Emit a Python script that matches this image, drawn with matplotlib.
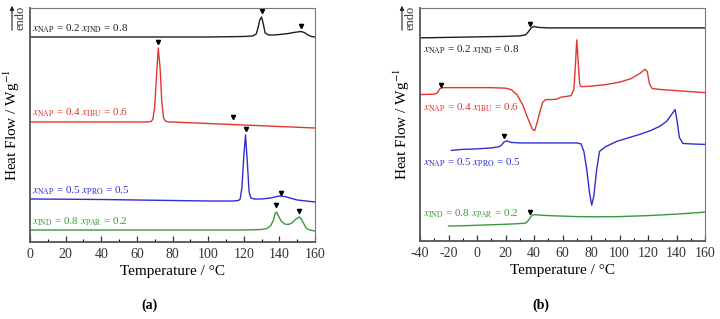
import numpy as np
import matplotlib
matplotlib.use("Agg")
import matplotlib.pyplot as plt
from matplotlib.ticker import MultipleLocator

plt.rcParams['font.family'] = ['Liberation Serif', 'DejaVu Serif']
plt.rcParams['mathtext.fontset'] = 'stix'
plt.rcParams['axes.unicode_minus'] = False

# panel (a) - heating scans of the crystalline mixtures (arbitrary heat flow units, offset)
t_a_black = [0, 20, 40, 60, 80, 100, 120, 125, 127, 128, 129, 130, 131, 132, 134, 137, 140,
             145, 148, 150, 152, 154, 156, 158, 160]
hf_a_black = [205, 205, 205, 205, 205, 205, 205.5, 206, 208, 214, 222, 225, 218, 209, 207, 207,
              207.5, 208.5, 209.5, 210, 210.5, 209.5, 207, 205.5, 205]
t_a_red = [0, 20, 40, 60, 66, 68, 69, 70, 71, 72, 73, 74, 75, 76, 78, 80, 100, 120, 140, 160]
hf_a_red = [120, 120, 120, 120, 120, 120.5, 123, 135, 165, 194, 175, 140, 124, 121, 120, 120,
            118.5, 117, 115.5, 114]
t_a_blue = [0, 20, 40, 60, 80, 100, 114, 117, 118, 119, 120, 121, 122, 123, 124, 126, 130,
            135, 140, 143, 146, 150, 155, 160]
hf_a_blue = [43, 42.8, 42.5, 42, 41.5, 41, 41, 41.5, 43, 55, 85, 107, 80, 50, 44, 43, 43,
             44, 46, 45.5, 44, 42, 41, 40]
t_a_green = [0, 20, 40, 60, 80, 100, 120, 130, 133, 135, 136.5, 137.5, 138.5, 139.5, 141, 143,
             145, 147, 149, 151, 152, 153.5, 155, 157, 160]
hf_a_green = [12, 12, 12, 12, 12, 12, 12, 12.5, 13.5, 16, 21, 28, 30, 26, 21, 18, 17.5, 19,
              22.5, 25, 24, 19, 14, 12, 11]

# event markers (a)
mk_a_black = ([130, 152], [231, 216])
mk_a_red = ([72, 114], [200, 125])
mk_a_blue = ([121, 141], [113, 49])
mk_a_green = ([138, 151], [37, 31])

# panel (b) - heating scans of the quenched (amorphous) mixtures
t_b_black = [-40, -20, 0, 20, 30, 34, 36, 38, 40, 43, 50, 80, 120, 160]
hf_b_black = [204, 204.5, 205, 205.5, 206, 207, 210, 214, 215.5, 214.5, 214, 214, 214, 214]
t_b_red = [-40, -30, -28, -26, -24, -10, 0, 10, 20, 24, 28, 32, 36, 39, 40.5, 42, 44, 46, 48,
           52, 56, 59, 62, 66, 68, 69, 70, 71, 72, 73, 80, 90, 100, 108, 114, 118, 119.5,
           121, 123, 130, 145, 160]
hf_b_red = [147, 147.5, 148.5, 153, 154, 154, 154, 154, 153.5, 152, 147, 137, 122, 112, 111,
            118, 129, 139, 142, 142, 142.5, 144.5, 145, 146, 152, 175, 202, 180, 158, 155,
            155.5, 157, 159.5, 163, 168, 172.5, 170, 158, 153, 152, 150.5, 149]
t_b_blue = [-18, -10, 0, 10, 15, 17, 19, 21, 24, 30, 50, 70, 73, 75, 77, 79, 80.5, 82, 84, 86,
            90, 98, 106, 114, 122, 128, 133, 136.5, 139, 140.5, 142, 144.5, 150, 160]
hf_b_blue = [91, 92, 92.5, 93.5, 94.5, 96, 99.5, 100.5, 99, 98.5, 98.5, 98.5, 97.5, 90, 72, 48,
             36, 45, 72, 90, 94.5, 100, 103.5, 107, 111, 115, 120, 127, 132, 120, 104, 98,
             97.5, 97]
t_b_green = [-20, -10, 0, 10, 20, 30, 34, 36, 38, 40, 44, 50, 60, 70, 86, 100, 120, 140, 160]
hf_b_green = [15, 15.3, 15.8, 16.3, 16.8, 17.5, 18, 20.5, 25, 26.5, 26, 25.5, 25, 24.5, 24.3,
              24.5, 25.5, 27, 29]

mk_b_black = ([37], [218])
mk_b_red = ([-25], [157])
mk_b_blue = ([19], [105])
mk_b_green = ([37.5], [29])

c_black = '#1e1e1e'
c_red = '#e2372f'
c_blue = '#2f2fcf'
c_green = '#3a9a3a'

lab_black = r'$x_{\rm NAP}$ = 0.2 $x_{\rm IND}$ = 0.8'
lab_red = r'$x_{\rm NAP}$ = 0.4 $x_{\rm IBU}$ = 0.6'
lab_blue = r'$x_{\rm NAP}$ = 0.5 $x_{\rm PRO}$ = 0.5'
lab_green = r'$x_{\rm IND}$ = 0.8 $x_{\rm PAR}$ = 0.2'

fig = plt.figure(figsize=(7.2, 3.19), dpi=100)
ax_a = fig.add_axes([30 / 720, 77 / 319, 285 / 720, 234 / 319])
ax_b = fig.add_axes([420 / 720, 78 / 319, 285 / 720, 233 / 319])


def style(ax, xmin):
    ax.set_xlim(xmin, 160)
    ax.set_ylim(0, 234)
    ax.set_yticks([])
    ax.xaxis.set_major_locator(MultipleLocator(20))
    ax.xaxis.set_minor_locator(MultipleLocator(10))
    ax.tick_params(axis='x', which='major', direction='in', length=4, width=0.9,
                   labelsize=10, pad=4, colors='#333333')
    ax.tick_params(axis='x', which='minor', direction='in', length=2, width=0.8)
    for s in ['left', 'bottom']:
        ax.spines[s].set_linewidth(1.3)
        ax.spines[s].set_color('#555555')
    for s in ['top', 'right']:
        ax.spines[s].set_linewidth(0.8)
        ax.spines[s].set_color('#777777')
    ax.set_xlabel('Temperature / °C', fontsize=11, labelpad=3)
    ax.set_ylabel(r'Heat Flow / Wg$^{-1}$', fontsize=11, labelpad=6)


style(ax_a, 0)
style(ax_b, -40)

# panel (a)
for t, hf, mk, c in [(t_a_black, hf_a_black, mk_a_black, c_black),
                     (t_a_red, hf_a_red, mk_a_red, c_red),
                     (t_a_blue, hf_a_blue, mk_a_blue, c_blue),
                     (t_a_green, hf_a_green, mk_a_green, c_green)]:
    ax_a.plot(t, hf, color=c, lw=1.0)
    ax_a.plot(mk[0], mk[1], 'v', color='black', ms=3)

ax_a.text(1, 213, lab_black, color=c_black, fontsize=8, va='center')
ax_a.text(1, 129, lab_red, color=c_red, fontsize=8, va='center')
ax_a.text(1, 51, lab_blue, color=c_blue, fontsize=8, va='center')
ax_a.text(1, 20, lab_green, color=c_green, fontsize=8, va='center')

# panel (b)
for t, hf, mk, c in [(t_b_black, hf_b_black, mk_b_black, c_black),
                     (t_b_red, hf_b_red, mk_b_red, c_red),
                     (t_b_blue, hf_b_blue, mk_b_blue, c_blue),
                     (t_b_green, hf_b_green, mk_b_green, c_green)]:
    ax_b.plot(t, hf, color=c, lw=1.0)
    ax_b.plot(mk[0], mk[1], 'v', color='black', ms=3)

ax_b.text(-38, 192, lab_black, color=c_black, fontsize=8, va='center')
ax_b.text(-38, 134, lab_red, color=c_red, fontsize=8, va='center')
ax_b.text(-38, 79, lab_blue, color=c_blue, fontsize=8, va='center')
ax_b.text(-38, 27, lab_green, color=c_green, fontsize=8, va='center')

# endo arrows
for xa, xt in [(12, 21), (402, 411)]:
    fig.patches.append(matplotlib.patches.FancyArrowPatch(
        (xa / 720, 1 - 33 / 319), (xa / 720, 1 - 3 / 319), transform=fig.transFigure,
        arrowstyle='-|>', mutation_scale=6, lw=0.8, color='#222222'))
    fig.text(xt / 720, 1 - 18 / 319, 'endo', rotation=90, fontsize=9,
             ha='center', va='center', color='#333333')

fig.text(150 / 720, 1 - 305 / 319, '(a)', fontsize=10, ha='center', va='center',
         fontweight='bold')
fig.text(541 / 720, 1 - 305 / 319, '(b)', fontsize=10, ha='center', va='center',
         fontweight='bold')

fig.savefig('out.png', dpi=100)
